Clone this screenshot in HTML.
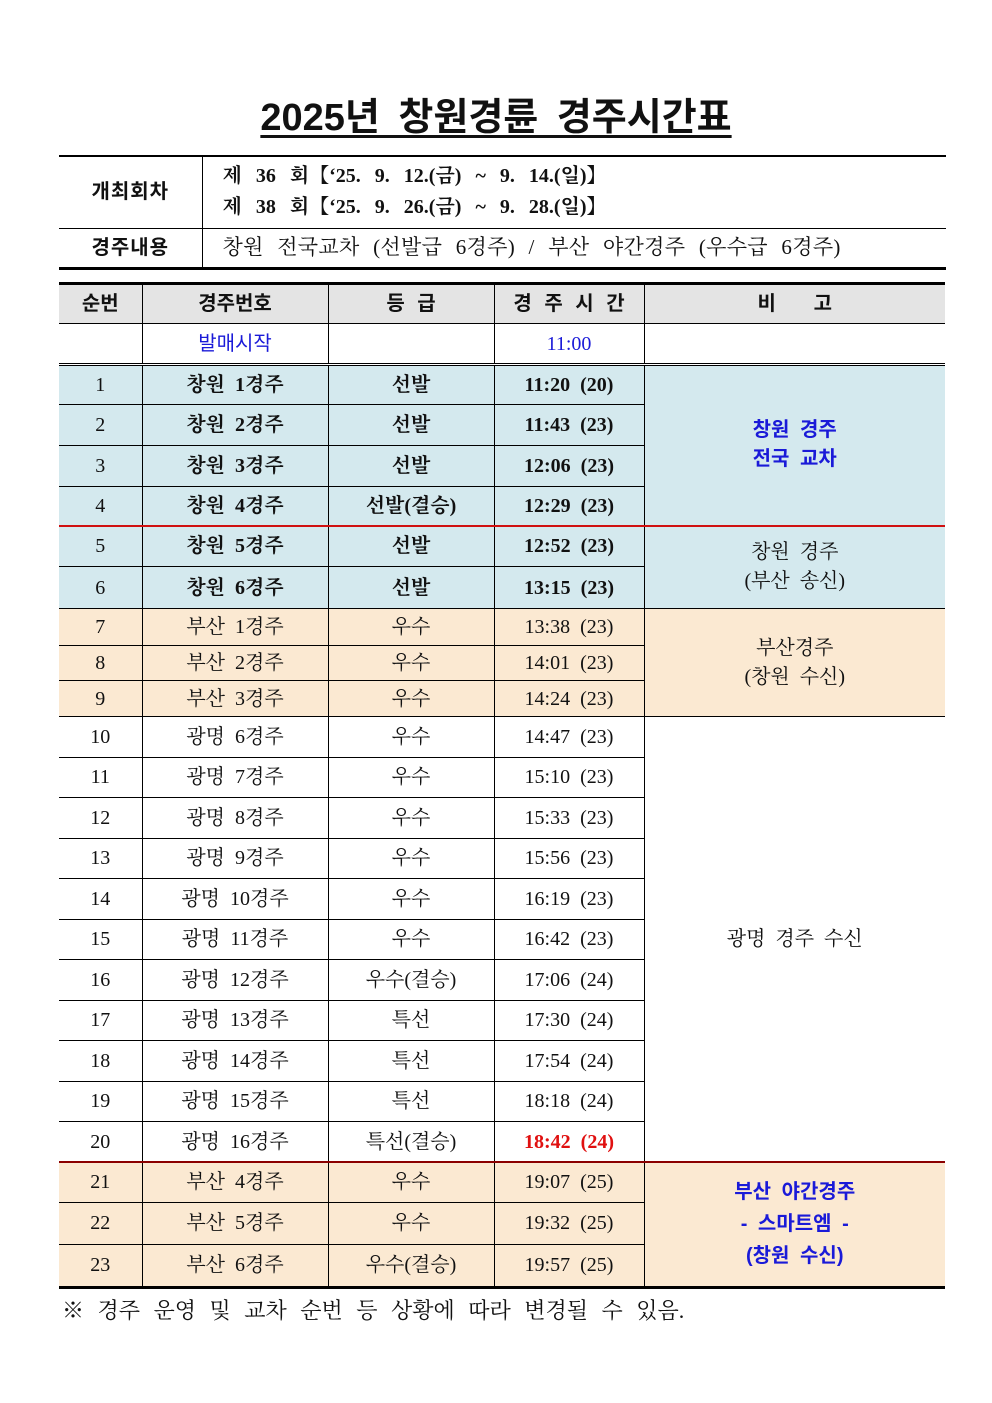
<!DOCTYPE html>
<html><head><meta charset="utf-8">
<style>
body{margin:0;background:#fff;width:992px;height:1403px;position:relative;overflow:hidden;font-family:"Liberation Serif","Noto Serif CJK SC",serif;color:#111}
.title{position:absolute;left:0;width:992px;top:86px;text-align:center;font-family:"Liberation Sans","Noto Sans CJK KR",sans-serif;font-weight:bold;font-size:38px;word-spacing:8px;text-decoration:underline;text-decoration-thickness:3px;text-underline-offset:5px}
table{border-collapse:collapse;table-layout:fixed;position:absolute;left:59px}
td{border:1px solid #000;text-align:center;padding:0;font-size:20px;line-height:1.3}
.g{font-family:"Liberation Sans","Noto Sans CJK KR",sans-serif;font-weight:bold}
#t1{top:155px;width:887px;border-top:2px solid #000;border-bottom:3px solid #000}
#t1 td{border-left:none;border-right:none}
#t1 td.l{border-right:1px solid #000;letter-spacing:1px}
#t2{top:282px;width:886px;border-top:3px solid #000;border-bottom:3px solid #000;word-spacing:5px}
#t2 td:first-child{border-left:none}
#t2 td:last-child{border-right:none}
.h td{background:#e4e4e4;font-family:"Liberation Sans","Noto Sans CJK KR",sans-serif;font-weight:bold;word-spacing:7px}
.b{background:#d4e9ee}
.o{background:#fbe9d2}
.bl{color:#1a1ad8}
.bd{font-weight:bold}
.tc{border-left:1px solid #1a1acc !important}
.note{position:absolute;left:62px;top:1294px;font-size:22px;word-spacing:8px;font-family:"Liberation Serif","Noto Serif CJK SC",serif}
</style></head><body>
<div class="title">2025년 창원경륜 경주시간표</div>
<table id="t1">
<col style="width:143px"><col style="width:744px">
<tr style="height:72px"><td class="l g">개최회차</td><td class="bd" style="text-align:left;padding-left:20px;line-height:31px;word-spacing:9px">제 36 회【‘25. 9. 12.(금) ~ 9. 14.(일)】<br>제 38 회【‘25. 9. 26.(금) ~ 9. 28.(일)】</td></tr>
<tr style="height:40px"><td class="l g">경주내용</td><td style="text-align:left;padding-left:20px;font-size:21px;word-spacing:8px;letter-spacing:0.3px">창원 전국교차 (선발급 6경주) / 부산 야간경주 (우수급 6경주)</td></tr>
</table>
<table id="t2">
<col style="width:83px"><col style="width:186px"><col style="width:166px"><col style="width:150px"><col style="width:301px">
<tr class="h" style="height:40px"><td>순번</td><td>경주번호</td><td>등 급</td><td>경 주 시 간</td><td>비 &nbsp; 고</td></tr>
<tr style="height:41px;border-bottom:3px double #000"><td></td><td class="bl g" style="font-weight:normal">발매시작</td><td></td><td class="bl tc">11:00</td><td></td></tr>
<tr class="b" style="height:40px"><td>1</td><td class="bd">창원 1경주</td><td class="bd">선발</td><td class="bd tc">11:20 (20)</td><td rowspan="4" class="bl g" style="line-height:29px">창원 경주<br>전국 교차</td></tr>
<tr class="b" style="height:41px"><td>2</td><td class="bd">창원 2경주</td><td class="bd">선발</td><td class="bd tc">11:43 (23)</td></tr>
<tr class="b" style="height:41px"><td>3</td><td class="bd">창원 3경주</td><td class="bd">선발</td><td class="bd tc">12:06 (23)</td></tr>
<tr class="b" style="height:39px;border-bottom:2px solid #d01010"><td>4</td><td class="bd">창원 4경주</td><td class="bd">선발(결승)</td><td class="bd tc">12:29 (23)</td></tr>
<tr class="b" style="height:41px"><td>5</td><td class="bd">창원 5경주</td><td class="bd">선발</td><td class="bd tc">12:52 (23)</td><td rowspan="2" style="line-height:29px">창원 경주<br>(부산 송신)</td></tr>
<tr class="b" style="height:42px"><td>6</td><td class="bd">창원 6경주</td><td class="bd">선발</td><td class="bd tc">13:15 (23)</td></tr>
<tr class="o" style="height:37px"><td>7</td><td>부산 1경주</td><td>우수</td><td class="tc">13:38 (23)</td><td rowspan="3" style="line-height:29px">부산경주<br>(창원 수신)</td></tr>
<tr class="o" style="height:35px"><td>8</td><td>부산 2경주</td><td>우수</td><td class="tc">14:01 (23)</td></tr>
<tr class="o" style="height:36px"><td>9</td><td>부산 3경주</td><td>우수</td><td class="tc">14:24 (23)</td></tr>
<tr style="height:40.5px"><td>10</td><td>광명 6경주</td><td>우수</td><td class="tc">14:47 (23)</td><td rowspan="11">광명 경주 수신</td></tr>
<tr style="height:40.5px"><td>11</td><td>광명 7경주</td><td>우수</td><td class="tc">15:10 (23)</td></tr>
<tr style="height:40.5px"><td>12</td><td>광명 8경주</td><td>우수</td><td class="tc">15:33 (23)</td></tr>
<tr style="height:40.5px"><td>13</td><td>광명 9경주</td><td>우수</td><td class="tc">15:56 (23)</td></tr>
<tr style="height:40.5px"><td>14</td><td>광명 10경주</td><td>우수</td><td class="tc">16:19 (23)</td></tr>
<tr style="height:40.5px"><td>15</td><td>광명 11경주</td><td>우수</td><td class="tc">16:42 (23)</td></tr>
<tr style="height:40.5px"><td>16</td><td>광명 12경주</td><td>우수(결승)</td><td class="tc">17:06 (24)</td></tr>
<tr style="height:40.5px"><td>17</td><td>광명 13경주</td><td>특선</td><td class="tc">17:30 (24)</td></tr>
<tr style="height:40.5px"><td>18</td><td>광명 14경주</td><td>특선</td><td class="tc">17:54 (24)</td></tr>
<tr style="height:40.5px"><td>19</td><td>광명 15경주</td><td>특선</td><td class="tc">18:18 (24)</td></tr>
<tr style="height:40.5px;border-bottom:2px solid #8b0000"><td>20</td><td>광명 16경주</td><td>특선(결승)</td><td class="tc bd" style="color:#e01010">18:42 (24)</td></tr>
<tr class="o" style="height:40px"><td>21</td><td>부산 4경주</td><td>우수</td><td class="tc">19:07 (25)</td><td rowspan="3" class="bl g" style="line-height:32px">부산 야간경주<br>- 스마트엠 -<br>(창원 수신)</td></tr>
<tr class="o" style="height:42px"><td>22</td><td>부산 5경주</td><td>우수</td><td class="tc">19:32 (25)</td></tr>
<tr class="o" style="height:43px"><td>23</td><td>부산 6경주</td><td>우수(결승)</td><td class="tc">19:57 (25)</td></tr>
</table>
<div class="note">※ 경주 운영 및 교차 순번 등 상황에 따라 변경될 수 있음.</div>
</body></html>
